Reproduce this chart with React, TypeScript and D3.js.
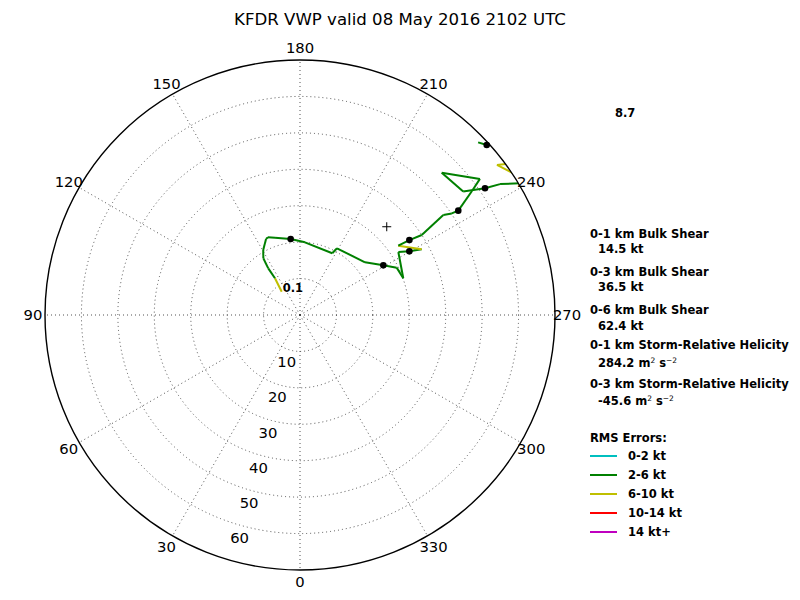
import React from "react";
import * as d3 from "d3";

const title = "KFDR VWP valid 08 May 2016 2102 UTC";
const angleTicks = [0, 30, 60, 90, 120, 150, 180, 210, 240, 270, 300, 330];
const ringTicks = [10, 20, 30, 40, 50, 60];
const rMax = 70;

// hodograph points: direction (deg) and speed (kt)
const dirs = [141.9, 145.7, 145.8, 147.1, 150.5, 155.9, 157.6, 162.1, 173.0, 183.9, 207.6, 209.0, 231.0, 239.2, 243.9, 250.4, 237.4, 239.8, 241.6, 234.8, 235.6, 236.7, 235.1, 236.2, 236.6, 234.2, 232.9, 224.9, 232.9, 235.6, 236.8, 239.1, 242.6, 236.2, 232.7, 240.9, 225.9, 227.7, 237.9];
const speeds = [8.13, 12.19, 15.49, 18.54, 20.49, 22.85, 23.07, 22.3, 21.02, 20.0, 19.12, 20.94, 22.97, 26.63, 29.55, 30.09, 32.05, 34.73, 37.96, 33.01, 36.39, 39.98, 47.97, 50.13, 52.04, 58.21, 61.93, 55.12, 56.17, 61.55, 65.63, 70.4, 80.4, 75.98, 67.97, 73.85, 68.1, 69.31, 102.06];
// RMS error class of segment i -> i+1 (index into legend; -1 = no data)
const segClass = [2, 1, 1, 1, 1, 1, 1, 1, 1, 1, 1, 1, 1, 1, 1, 1, 1, 1, 2, 1, 1, 1, 1, 1, 1, 1, 1, 1, 1, 1, 1, 1, -1, 2, 2, -1, 1, 1];
const dotIdx = [8, 13, 17, 20, 24, 29, 37];
const startLabel = "0.1";
const endLabel = "8.7";
const stormDir = 224.5;
const stormSpd = 33.97;

const statLabels = ["0-1 km Bulk Shear", "0-3 km Bulk Shear", "0-6 km Bulk Shear", "0-1 km Storm-Relative Helicity", "0-3 km Storm-Relative Helicity"];
const statValues = ["14.5", "36.5", "62.4", "284.2", "-45.6"];
const statUnits = ["kt", "kt", "kt", "srh", "srh"];

const legendTitle = "RMS Errors:";
const legendLabels = ["0-2 kt", "2-6 kt", "6-10 kt", "10-14 kt", "14 kt+"];
const legendColors = ["#00bfbf", "#008000", "#bfbf00", "#ff0000", "#bf00bf"];

// layout
const W = 800, H = 600;
const cx = 300, cy = 315, R = 255;
const labelBase = [238.3, 276, 314, 349, 388.3];
const valueBase = [252.7, 291, 330, 367.3, 405];

export default function App() {
  const r = d3.scaleLinear().domain([0, rMax]).range([0, R]);
  const toAng = (deg: number) => ((deg + 180) * Math.PI) / 180;
  const pos = (deg: number, rad: number) => {
    const a = toAng(deg);
    return [cx + rad * Math.sin(a), cy - rad * Math.cos(a)];
  };
  const line = d3
    .lineRadial<number>()
    .angle((i) => toAng(dirs[i]))
    .radius((i) => r(speeds[i]));

  const font = "DejaVu Sans, sans-serif";
  const [sx, sy] = pos(stormDir, r(stormSpd));
  const [lx0, ly0] = pos(dirs[0], r(speeds[0]));
  const last = dirs.length - 1;
  const [lx1, ly1] = pos(dirs[last], r(speeds[last]));

  return (
    <svg width={W} height={H} style={{ position: "absolute", left: 0, top: 0, background: "#fff" }} fontFamily={font}>
      <defs>
        <clipPath id="polarClip">
          <circle cx={cx} cy={cy} r={R} />
        </clipPath>
      </defs>
      <rect x={0} y={0} width={W} height={H} fill="#fff" />
      <text x={400} y={25} textAnchor="middle" fontSize={16.6}>{title}</text>
      {/* grid */}
      <g stroke="#000" strokeWidth={0.9} strokeDasharray="1,3" fill="none" opacity={0.75}>
        {ringTicks.map((t) => (
          <circle key={t} cx={cx} cy={cy} r={r(t)} />
        ))}
        {angleTicks.map((a) => {
          const [x, y] = pos(a, R);
          return <line key={a} x1={cx} y1={cy} x2={x} y2={y} />;
        })}
      </g>
      {/* trace */}
      <g clipPath="url(#polarClip)" fill="none" strokeWidth={2} strokeLinejoin="round">
        {segClass.map((c, i) =>
          c < 0 ? null : (
            <path key={i} d={line([i, i + 1]) || ""} transform={`translate(${cx},${cy})`} stroke={legendColors[c]} />
          )
        )}
      </g>
      {dotIdx.map((i) => {
        const [x, y] = pos(dirs[i], r(speeds[i]));
        return <circle key={i} cx={x} cy={y} r={3.3} fill="#000" />;
      })}
      <g stroke="#000" strokeWidth={1}>
        <line x1={sx - 4.5} y1={sy} x2={sx + 4.5} y2={sy} />
        <line x1={sx} y1={sy - 4.5} x2={sx} y2={sy + 4.5} />
      </g>
      <text x={lx0 + 1} y={ly0} fontSize={11.5} fontWeight="bold">{startLabel}</text>
      <text x={lx1} y={ly1} fontSize={11.5} fontWeight="bold">{endLabel}</text>
      {/* frame */}
      <circle cx={cx} cy={cy} r={R} fill="none" stroke="#000" strokeWidth={1.4} />
      {angleTicks.map((a) => {
        const [x, y] = pos(a, R + 12);
        return (
          <text key={a} x={x} y={y} dy="0.36em" textAnchor="middle" fontSize={14.8}>{a}</text>
        );
      })}
      {ringTicks.map((t) => {
        const [x, y] = pos(15, r(t));
        return (
          <text key={t} x={x - 3.8} y={y + 11.7} dy="0.36em" textAnchor="middle" fontSize={14.8}>{t}</text>
        );
      })}
      {/* stats */}
      <g fontSize={11.5} fontWeight="bold" style={{ whiteSpace: "pre" }}>
        {statLabels.map((s, i) => (
          <text key={s} x={590} y={labelBase[i]}>{s}</text>
        ))}
        {statValues.map((v, i) =>
          statUnits[i] === "kt" ? (
            <text key={i} x={598} y={valueBase[i]}>{v + " kt"}</text>
          ) : (
            <text key={i} x={598} y={valueBase[i]}>
              {v + " m"}
              <tspan dy={-4.5} fontSize={7.5} fontWeight="normal">2</tspan>
              <tspan dy={4.5}>{"  s"}</tspan>
              <tspan dy={-4.5} fontSize={7.5} fontWeight="normal">{"\u22122"}</tspan>
            </text>
          )
        )}
        <text x={590} y={441.7}>{legendTitle}</text>
        {legendLabels.map((l, i) => (
          <g key={l}>
            <line x1={590} x2={617} y1={456 + 19 * i} y2={456 + 19 * i} stroke={legendColors[i]} strokeWidth={2} />
            <text x={628} y={460.2 + 19 * i}>{l}</text>
          </g>
        ))}
      </g>
    </svg>
  );
}
